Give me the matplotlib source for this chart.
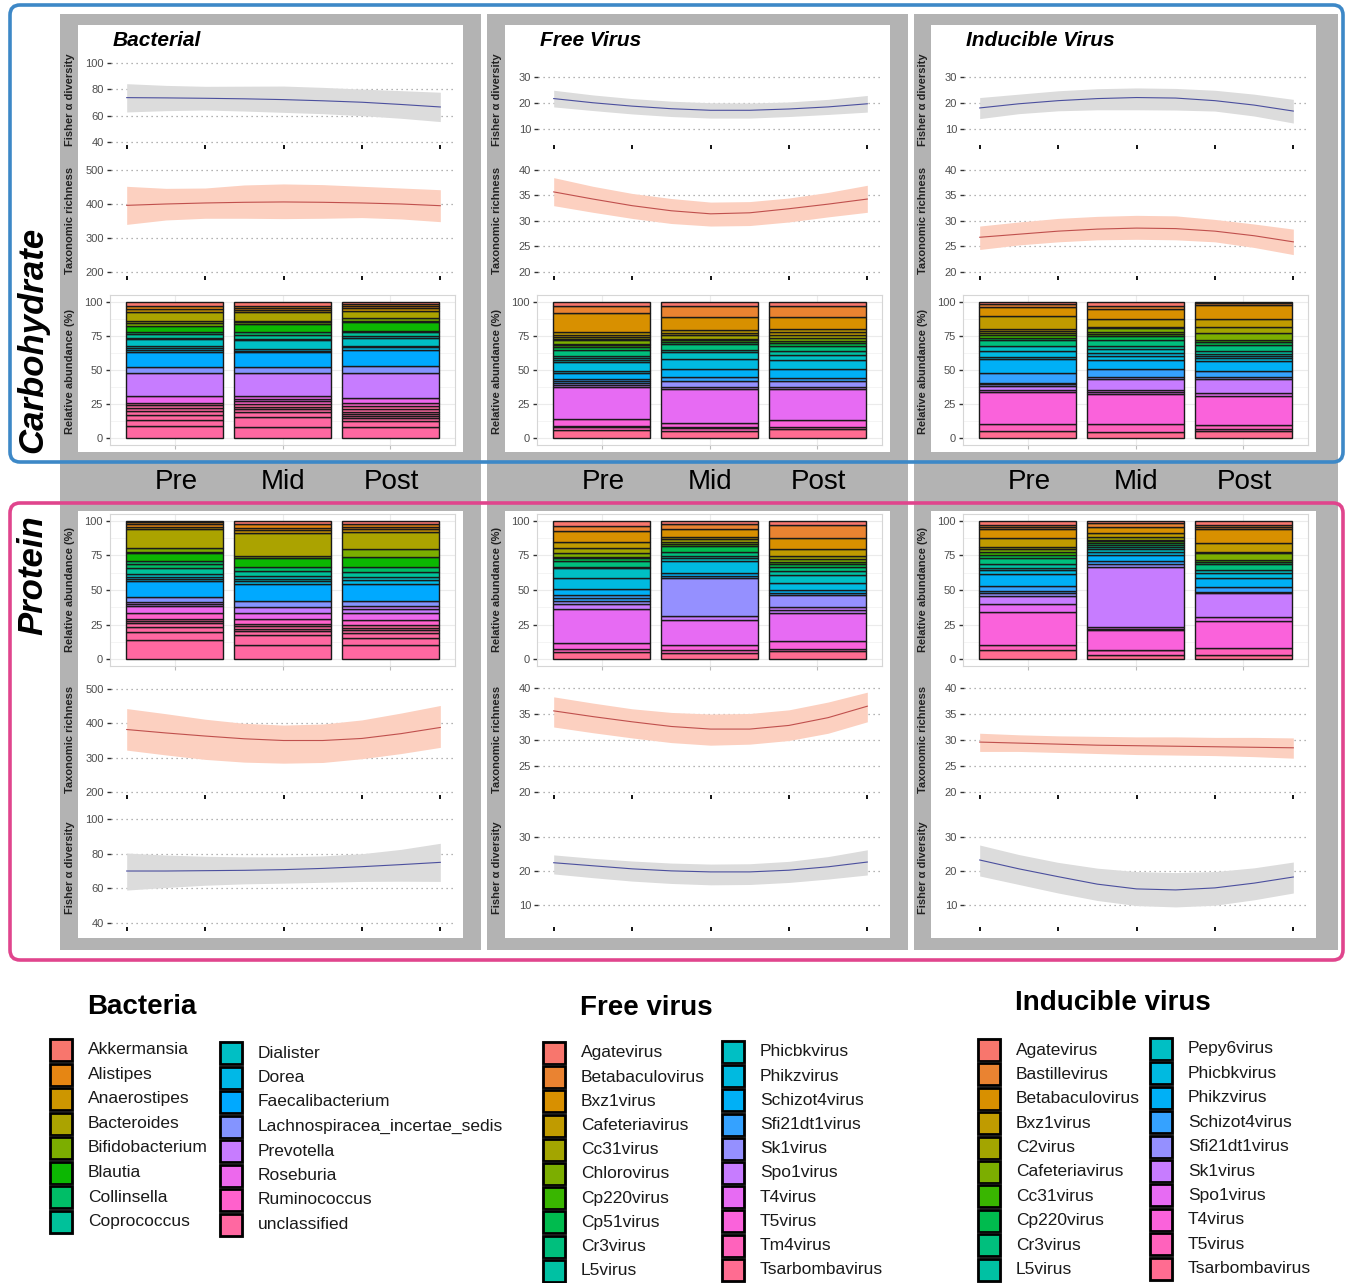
import numpy as np
import matplotlib
matplotlib.use("Agg")
import matplotlib.pyplot as plt
from matplotlib.patches import Rectangle, FancyBboxPatch

plt.rcParams['font.family'] = ['Liberation Sans', 'DejaVu Sans']

W, H = 1350, 1283

# sampling points of the smoothed trends (Pre .. Post)
x_pts = [1, 1.5, 2, 2.5, 3, 3.5, 4, 4.5, 5]
times = ['Pre', 'Mid', 'Post']
panels = ['Bacterial', 'Free Virus', 'Inducible Virus']

bact_taxa = ['Akkermansia', 'Alistipes', 'Anaerostipes', 'Bacteroides', 'Bifidobacterium',
             'Blautia', 'Collinsella', 'Coprococcus', 'Dialister', 'Dorea',
             'Faecalibacterium', 'Lachnospiracea_incertae_sedis', 'Prevotella',
             'Roseburia', 'Ruminococcus', 'unclassified']
free_taxa = ['Agatevirus', 'Betabaculovirus', 'Bxz1virus', 'Cafeteriavirus', 'Cc31virus',
             'Chlorovirus', 'Cp220virus', 'Cp51virus', 'Cr3virus', 'L5virus',
             'Phicbkvirus', 'Phikzvirus', 'Schizot4virus', 'Sfi21dt1virus', 'Sk1virus',
             'Spo1virus', 'T4virus', 'T5virus', 'Tm4virus', 'Tsarbombavirus']
ind_taxa = ['Agatevirus', 'Bastillevirus', 'Betabaculovirus', 'Bxz1virus', 'C2virus',
            'Cafeteriavirus', 'Cc31virus', 'Cp220virus', 'Cr3virus', 'L5virus',
            'Pepy6virus', 'Phicbkvirus', 'Phikzvirus', 'Schizot4virus', 'Sfi21dt1virus',
            'Sk1virus', 'Spo1virus', 'T4virus', 'T5virus', 'Tsarbombavirus']

bact_colors = ['#F8766D', '#E68613', '#CD9600', '#ABA300', '#7CAE00', '#0CB702', '#00BE67',
               '#00C19A', '#00BFC4', '#00B8E7', '#00A9FF', '#8494FF', '#C77CFF', '#ED68ED',
               '#FF61CC', '#FF68A1']
vir_colors = ['#F8766D', '#EA8331', '#D89000', '#C09B00', '#A3A500', '#7CAE00', '#39B600',
              '#00BB4E', '#00BF7D', '#00C1A3', '#00BFC4', '#00BAE0', '#00B0F6', '#35A2FF',
              '#9590FF', '#C77CFF', '#E76BF3', '#FA62DB', '#FF62BC', '#FF6C91']

# relative abundance (%), stacked bottom -> top, with taxon index per segment
carb_bact_pct = [
    [8.7, 4.6, 3.7, 2.6, 2.4, 2.0, 2.0, 5.0, 17.0, 4.0, 11.2, 1.2, 1.6, 1.3, 5.1, 1.0, 2.9, 1.4, 4.9, 2.1, 1.3, 6.7, 2.0, 2.2, 3.1],
    [8.5, 6.8, 3.6, 2.4, 1.9, 1.7, 2.2, 1.9, 2.0, 17.0, 4.0, 11.2, 1.0, 1.4, 6.1, 0.9, 2.7, 2.4, 5.8, 1.5, 1.0, 6.2, 1.8, 1.2, 1.7, 3.1],
    [8.0, 4.8, 2.0, 1.7, 1.4, 1.5, 1.9, 2.4, 2.0, 3.6, 18.7, 4.8, 12.1, 1.7, 1.2, 6.0, 1.3, 2.6, 1.2, 6.1, 1.2, 1.7, 5.6, 1.7, 1.7, 1.4, 1.7],
]
carb_bact_taxon = [
    [15, 15, 15, 15, 15, 15, 15, 13, 12, 11, 10, 9, 9, 8, 8, 7, 7, 6, 5, 4, 3, 3, 2, 1, 0],
    [15, 15, 15, 15, 15, 15, 14, 13, 13, 12, 11, 10, 9, 9, 8, 8, 7, 6, 5, 4, 3, 3, 2, 1, 1, 0],
    [15, 15, 15, 15, 15, 15, 15, 15, 14, 13, 12, 11, 10, 9, 9, 8, 8, 7, 6, 5, 4, 4, 3, 2, 1, 1, 0],
]
carb_free_pct = [
    [6.3, 1.7, 1.2, 4.8, 23.8, 0.9, 1.5, 1.7, 1.2, 4.4, 1.7, 6.5, 1.4, 1.7, 1.7, 4.4, 1.9, 1.7, 0.7, 2.5, 0.9, 1.5, 1.2, 2.4, 13.8, 5.6, 2.9],
    [5.6, 1.7, 1.2, 2.6, 25.2, 1.5, 4.1, 3.1, 5.8, 7.6, 4.6, 1.4, 4.6, 1.5, 1.2, 1.2, 2.4, 1.7, 2.4, 9.7, 7.8, 3.1],
    [6.8, 1.7, 4.8, 22.5, 1.7, 4.4, 2.4, 6.1, 7.2, 3.7, 2.4, 3.6, 2.4, 1.7, 2.0, 1.9, 2.2, 2.4, 9.2, 8.0, 2.9],
]
carb_free_taxon = [
    [19, 18, 18, 17, 16, 15, 14, 13, 13, 12, 11, 11, 10, 10, 9, 8, 7, 6, 5, 5, 4, 4, 3, 3, 2, 1, 0],
    [19, 18, 18, 17, 16, 15, 14, 13, 12, 11, 10, 9, 8, 7, 6, 5, 4, 3, 3, 2, 1, 0],
    [19, 18, 17, 16, 15, 14, 13, 12, 11, 10, 9, 8, 7, 6, 5, 4, 3, 3, 2, 1, 0],
]
carb_ind_pct = [
    [5.1, 5.3, 23.7, 1.3, 2.9, 1.2, 0.9, 7.5, 10.2, 1.5, 4.1, 3.6, 4.9, 1.2, 1.9, 1.7, 1.9, 1.0, 9.7, 6.8, 1.7, 1.9],
    [4.4, 6.0, 21.8, 1.7, 1.5, 8.2, 1.4, 5.8, 6.8, 2.4, 2.5, 2.9, 2.4, 4.4, 2.4, 1.7, 1.9, 2.4, 1.2, 5.6, 7.3, 2.4, 2.9],
    [5.6, 1.2, 2.9, 21.3, 2.4, 10.2, 1.4, 4.2, 7.2, 2.4, 1.2, 1.7, 2.0, 4.8, 1.7, 2.0, 4.8, 4.4, 5.8, 10.4, 1.7, 0.7],
]
carb_ind_taxon = [
    [19, 18, 17, 16, 15, 14, 14, 13, 12, 11, 11, 10, 8, 7, 6, 5, 4, 3, 3, 2, 1, 0],
    [19, 18, 17, 16, 16, 15, 14, 13, 12, 11, 11, 10, 9, 8, 7, 6, 5, 5, 4, 3, 2, 1, 0],
    [19, 18, 18, 17, 16, 15, 14, 13, 12, 11, 11, 10, 9, 8, 7, 6, 5, 4, 3, 2, 1, 0],
]
prot_bact_pct = [
    [13.6, 6.0, 3.6, 3.0, 1.6, 1.5, 4.1, 4.9, 1.9, 1.2, 3.2, 11.8, 1.5, 1.7, 1.7, 4.8, 2.4, 2.4, 5.6, 1.2, 2.9, 13.3, 2.0, 1.9, 1.2, 1.0],
    [10.4, 6.8, 2.9, 1.9, 2.0, 1.7, 3.6, 4.1, 4.4, 4.3, 12.6, 1.7, 1.5, 2.4, 3.6, 2.4, 6.6, 1.9, 16.7, 2.0, 1.7, 2.4, 2.4],
    [9.9, 5.4, 3.6, 1.9, 1.7, 2.0, 3.6, 5.6, 2.9, 1.7, 3.8, 12.6, 2.4, 2.5, 3.6, 3.6, 7.3, 5.3, 12.9, 1.6, 2.0, 1.9, 2.2],
]
prot_bact_taxon = [
    [15, 15, 15, 15, 15, 15, 14, 13, 12, 12, 11, 10, 9, 9, 8, 7, 6, 6, 5, 4, 4, 3, 2, 1, 1, 0],
    [15, 15, 15, 15, 15, 15, 14, 13, 12, 11, 10, 9, 8, 8, 7, 6, 5, 4, 3, 2, 1, 1, 0],
    [15, 15, 15, 15, 15, 15, 14, 13, 12, 12, 11, 10, 9, 8, 7, 6, 5, 4, 3, 2, 1, 1, 0],
]
prot_free_pct = [
    [5.1, 1.9, 4.9, 24.7, 3.1, 2.4, 2.2, 1.9, 4.4, 8.2, 6.8, 1.2, 4.1, 2.0, 1.2, 2.4, 3.6, 4.4, 8.2, 3.7, 3.6],
    [4.4, 1.9, 3.6, 18.7, 2.4, 27.4, 1.6, 2.0, 8.9, 2.0, 1.7, 3.1, 4.4, 0.9, 2.0, 1.9, 1.7, 5.6, 3.4, 2.4],
    [5.6, 1.4, 6.1, 20.6, 1.7, 2.4, 8.4, 1.3, 2.4, 5.5, 5.4, 3.1, 2.9, 1.7, 2.0, 1.7, 2.6, 4.9, 7.7, 9.7, 2.9],
]
prot_free_taxon = [
    [19, 18, 17, 16, 15, 14, 13, 13, 12, 11, 10, 9, 8, 7, 6, 5, 4, 3, 2, 1, 0],
    [19, 18, 17, 16, 15, 14, 13, 12, 11, 10, 9, 8, 7, 6, 5, 4, 3, 2, 1, 0],
    [19, 18, 17, 16, 15, 15, 14, 13, 12, 11, 10, 9, 8, 7, 6, 5, 4, 3, 2, 1, 0],
]
prot_ind_pct = [
    [6.3, 4.1, 23.7, 6.1, 5.6, 1.7, 1.7, 3.6, 8.5, 3.1, 1.7, 2.4, 4.4, 2.4, 1.9, 2.5, 1.2, 7.0, 6.0, 2.0, 1.2, 2.9],
    [3.2, 3.1, 0.5, 14.0, 1.2, 1.2, 43.6, 1.7, 2.4, 4.4, 2.4, 1.7, 1.6, 1.6, 1.4, 1.2, 1.0, 1.8, 3.0, 4.9, 2.4, 1.7],
    [3.2, 4.8, 19.4, 3.1, 17.0, 1.2, 3.6, 6.1, 3.6, 2.4, 4.1, 1.5, 1.7, 4.8, 1.2, 6.1, 10.4, 1.7, 1.2, 2.9],
]
prot_ind_taxon = [
    [19, 18, 17, 16, 15, 14, 13, 13, 12, 11, 10, 9, 8, 7, 6, 5, 4, 3, 2, 1, 1, 0],
    [19, 18, 18, 17, 16, 16, 15, 14, 13, 12, 11, 10, 9, 8, 7, 6, 5, 4, 3, 2, 1, 0],
    [19, 18, 17, 16, 15, 14, 13, 12, 11, 10, 8, 7, 6, 5, 4, 3, 2, 1, 1, 0],
]

# smoothed trends with confidence band: one row per panel (bacterial, free, inducible)
carb_fisher_fit = [[73.7, 73.5, 73.2, 72.8, 72.2, 71.3, 70.2, 68.5, 66.6],
                   [21.7, 20.1, 18.8, 17.8, 17.2, 17.2, 17.7, 18.5, 19.7],
                   [18.1, 19.7, 20.9, 21.7, 22.1, 21.9, 20.9, 19.2, 16.9]]
carb_fisher_lo = [[62.8, 63.8, 64.3, 63.5, 62.5, 61.5, 60.0, 58.0, 55.5],
                  [18.5, 17.1, 15.8, 14.8, 14.2, 14.2, 14.8, 15.6, 16.5],
                  [14.0, 15.9, 17.0, 17.4, 17.4, 17.3, 16.9, 15.0, 12.3]]
carb_fisher_hi = [[84.3, 83.0, 82.3, 82.4, 82.5, 81.5, 80.2, 79.0, 77.8],
                  [24.9, 23.1, 21.7, 20.7, 20.1, 20.0, 20.4, 21.4, 22.9],
                  [22.1, 23.4, 24.7, 25.5, 25.8, 25.6, 24.9, 23.4, 21.4]]
carb_rich_fit = [[396, 400, 403, 405, 406, 405, 403, 400, 395],
                 [35.7, 34.3, 33.0, 32.0, 31.4, 31.6, 32.4, 33.3, 34.3],
                 [26.8, 27.4, 28.0, 28.4, 28.6, 28.5, 28.0, 27.1, 25.9]]
carb_rich_lo = [[340, 353, 358, 358, 357, 358, 360, 356, 348],
                [33.0, 31.7, 30.5, 29.5, 29.0, 29.1, 29.8, 30.8, 31.7],
                [24.4, 25.3, 25.9, 26.3, 26.4, 26.3, 25.9, 24.8, 23.4]]
carb_rich_hi = [[452, 446, 447, 456, 459, 457, 452, 447, 442],
                [38.5, 36.8, 35.4, 34.4, 33.7, 33.8, 34.5, 35.6, 37.0],
                [29.0, 29.8, 30.5, 30.9, 31.1, 31.0, 30.3, 29.4, 28.4]]
prot_rich_fit = [[382, 372, 363, 355, 350, 350, 356, 370, 388],
                 [35.6, 34.5, 33.5, 32.6, 32.1, 32.1, 32.8, 34.3, 36.5],
                 [29.6, 29.4, 29.2, 29.0, 28.9, 28.8, 28.7, 28.6, 28.5]]
prot_rich_lo = [[322, 308, 295, 287, 284, 286, 297, 312, 330],
                [32.5, 31.4, 30.4, 29.5, 29.0, 29.2, 29.9, 31.3, 33.5],
                [27.8, 27.8, 27.6, 27.4, 27.2, 27.1, 27.0, 26.8, 26.5]]
prot_rich_hi = [[443, 428, 412, 400, 395, 398, 410, 430, 452],
                [38.3, 37.1, 36.0, 35.3, 35.0, 35.1, 35.8, 37.3, 39.2],
                [31.3, 31.0, 30.8, 30.7, 30.6, 30.6, 30.5, 30.5, 30.4]]
prot_fisher_fit = [[70.0, 70.0, 70.2, 70.4, 70.8, 71.5, 72.5, 73.7, 75.0],
                   [22.4, 21.5, 20.6, 20.0, 19.7, 19.7, 20.2, 21.2, 22.6],
                   [23.2, 20.6, 18.3, 16.1, 14.7, 14.4, 15.0, 16.4, 18.2]]
prot_fisher_lo = [[59.0, 60.5, 61.8, 62.6, 63.0, 63.5, 64.0, 64.1, 64.0],
                  [19.1, 18.0, 17.0, 16.3, 15.9, 16.0, 16.6, 17.6, 18.8],
                  [18.5, 16.0, 13.5, 11.3, 9.8, 9.4, 9.9, 11.5, 13.5]]
prot_fisher_hi = [[80.4, 79.2, 78.5, 78.2, 78.2, 78.7, 80.0, 82.5, 86.0],
                  [24.7, 23.7, 22.9, 22.3, 22.0, 22.1, 22.8, 24.2, 26.2],
                  [27.6, 24.8, 22.5, 20.8, 19.8, 19.5, 19.8, 20.9, 22.6]]

GRAY = '#b3b3b3'
FISHER_LINE, FISHER_BAND = '#4b4f9e', '#dcdcdc'
RICH_LINE, RICH_BAND = '#c0504d', '#fcd0c0'

fig = plt.figure(figsize=(W / 100, H / 100), dpi=100)

# pixel-space canvas for backgrounds, frames and legends
bg = fig.add_axes([0, 0, 1, 1])
bg.set_xlim(0, W)
bg.set_ylim(H, 0)
bg.axis('off')


def px_axes(l, t, r, b):
    return fig.add_axes([l / W, 1 - b / H, (r - l) / W, (b - t) / H])


def style_trend(ax, fit, lo, hi, line_c, band_c, ylim, yticks):
    ax.fill_between(x_pts, lo, hi, color=band_c, lw=0)
    ax.plot(x_pts, fit, color=line_c, lw=0.8)
    ax.set_xlim(0.8, 5.2)
    ax.set_ylim(*ylim)
    ax.set_yticks(yticks)
    ax.set_xticks([1, 2, 3, 4, 5])
    ax.set_xticklabels([])
    ax.yaxis.grid(True, ls=(0, (1, 3)), color='#9a9a9a', lw=0.9)
    ax.set_axisbelow(True)
    for s in ax.spines.values():
        s.set_visible(False)
    ax.patch.set_visible(False)
    ax.tick_params(axis='x', length=3, width=1.3, color='black', direction='out')
    ax.tick_params(axis='y', length=3, width=1.0, color='#333333', labelsize=8,
                   labelcolor='#4d4d4d', pad=2)


def style_bars(ax, pct, taxon, colors):
    for i in range(3):
        sz = np.array(pct[i])
        bottoms = np.concatenate([[0], np.cumsum(sz)[:-1]])
        ax.bar([i + 1] * len(sz), sz, bottom=bottoms, width=0.9,
               color=[colors[k] for k in taxon[i]], edgecolor='#1a1a1a', linewidth=1.0)
    ax.set_xlim(0.4, 3.6)
    ax.set_ylim(-5, 105)
    ax.set_yticks([0, 25, 50, 75, 100])
    ax.set_yticks([12.5, 37.5, 62.5, 87.5], minor=True)
    ax.set_xticks([1, 2, 3])
    ax.set_xticklabels([])
    ax.grid(True, which='major', color='#ebebeb', lw=0.8)
    ax.grid(True, which='minor', axis='y', color='#f3f3f3', lw=0.6)
    ax.set_axisbelow(True)
    for s in ax.spines.values():
        s.set_color('#d6d6d6')
        s.set_linewidth(0.8)
    ax.tick_params(axis='x', length=3, color='#bbbbbb')
    ax.tick_params(axis='y', which='major', length=3, width=1.0, color='#333333',
                   labelsize=8, labelcolor='#4d4d4d', pad=2)
    ax.tick_params(axis='y', which='minor', length=0)


col_off = [0, 427, 853]
gray_x = [(60, 481), (487, 908), (914, 1338)]
bar_sets_carb = [(carb_bact_pct, carb_bact_taxon, bact_colors),
                 (carb_free_pct, carb_free_taxon, vir_colors),
                 (carb_ind_pct, carb_ind_taxon, vir_colors)]
bar_sets_prot = [(prot_bact_pct, prot_bact_taxon, bact_colors),
                 (prot_free_pct, prot_free_taxon, vir_colors),
                 (prot_ind_pct, prot_ind_taxon, vir_colors)]

for c in range(3):
    o = col_off[c]
    gx0, gx1 = gray_x[c]
    bg.add_patch(Rectangle((gx0, 14), gx1 - gx0, 936, facecolor=GRAY, lw=0, zorder=0))
    bg.add_patch(Rectangle((78 + o, 25), 385, 427, facecolor='white', lw=0, zorder=1))
    bg.add_patch(Rectangle((78 + o, 511), 385, 427, facecolor='white', lw=0, zorder=1))

    bg.text(113 + o, 40, panels[c], fontsize=15, fontweight='bold', fontstyle='italic',
            va='center', ha='left', zorder=3)
    for i, t in enumerate(times):
        bg.text(176 + o + 107.5 * i, 482, t, fontsize=20, ha='center', va='center', zorder=3)

    if c == 0:
        f_top, r_top = (37.7, 106.1), (188.2, 529.4)
        r_bot, f_bot = (191.3, 526.2), (37.7, 105.2)
        f_ticks, r_ticks = [40, 60, 80, 100], [200, 300, 400, 500]
    else:
        f_top, r_top = (3.85, 38.46), (19.2, 41.96)
        r_bot, f_bot = (19.42, 41.54), (3.5, 37.9)
        f_ticks, r_ticks = [10, 20, 30], [20, 25, 30, 35, 40]

    # carbohydrate row: diversity, richness, composition
    ax = px_axes(111 + o, 55, 456 + o, 145)
    style_trend(ax, carb_fisher_fit[c], carb_fisher_lo[c], carb_fisher_hi[c],
                FISHER_LINE, FISHER_BAND, f_top, f_ticks)
    ax = px_axes(111 + o, 160, 456 + o, 276)
    style_trend(ax, carb_rich_fit[c], carb_rich_lo[c], carb_rich_hi[c],
                RICH_LINE, RICH_BAND, r_top, r_ticks)
    ax = px_axes(110 + o, 295, 455 + o, 445)
    style_bars(ax, *bar_sets_carb[c])

    # protein row: composition, richness, diversity
    ax = px_axes(110 + o, 514, 455 + o, 666)
    style_bars(ax, *bar_sets_prot[c])
    ax = px_axes(111 + o, 680, 456 + o, 795)
    style_trend(ax, prot_rich_fit[c], prot_rich_lo[c], prot_rich_hi[c],
                RICH_LINE, RICH_BAND, r_bot, r_ticks)
    ax = px_axes(111 + o, 810, 456 + o, 927)
    style_trend(ax, prot_fisher_fit[c], prot_fisher_lo[c], prot_fisher_hi[c],
                FISHER_LINE, FISHER_BAND, f_bot, f_ticks)

    for label, yc in [('Fisher α diversity', 100), ('Taxonomic richness', 220),
                      ('Relative abundance (%)', 372), ('Relative abundance (%)', 590),
                      ('Taxonomic richness', 739), ('Fisher α diversity', 868)]:
        bg.text(70 + o, yc, label, rotation=90, fontsize=8, fontweight='bold',
                color='#222222', ha='center', va='center', zorder=3)

# diet frames
bg.add_patch(FancyBboxPatch((10, 5), 1333, 457, boxstyle='round,pad=0,rounding_size=10',
                            facecolor='none', edgecolor='#3d88c7', lw=2.6, zorder=4))
bg.add_patch(FancyBboxPatch((10, 503), 1333, 457, boxstyle='round,pad=0,rounding_size=10',
                            facecolor='none', edgecolor='#e0458d', lw=2.6, zorder=4))
bg.text(33, 340, 'Carbohydrate', rotation=90, fontsize=25, fontweight='bold',
        fontstyle='italic', ha='center', va='center', zorder=3)
bg.text(33, 575, 'Protein', rotation=90, fontsize=25, fontweight='bold',
        fontstyle='italic', ha='center', va='center', zorder=3)

# legends
legend_specs = [
    ('Bacteria', (87, 1007), bact_taxa, bact_colors,
     [(50, 1050, 0, 8), (220, 1053, 8, 16)], 24.5),
    ('Free virus', (580, 1008), free_taxa, vir_colors,
     [(543, 1053, 0, 10), (722, 1052, 10, 20)], 24.2),
    ('Inducible virus', (1015, 1003), ind_taxa, vir_colors,
     [(978, 1050, 0, 10), (1150, 1049, 10, 20)], 24.4),
]
for title, (tx, ty), taxa, colors, cols, dy in legend_specs:
    bg.text(tx, ty, title, fontsize=20, fontweight='bold', ha='left', va='center')
    for sx, sy, i0, i1 in cols:
        for j, k in enumerate(range(i0, i1)):
            cy = sy + dy * j
            bg.add_patch(Rectangle((sx - 1, cy - 12), 24, 24, facecolor='none',
                                   edgecolor='#c8c8c8', lw=0.8))
            bg.add_patch(Rectangle((sx, cy - 11), 22, 22, facecolor=colors[k],
                                   edgecolor='black', lw=2.0))
            bg.text(sx + 38, cy, taxa[k], fontsize=12.5, ha='left', va='center',
                    color='#1a1a1a')

fig.savefig('out.png', dpi=100)
